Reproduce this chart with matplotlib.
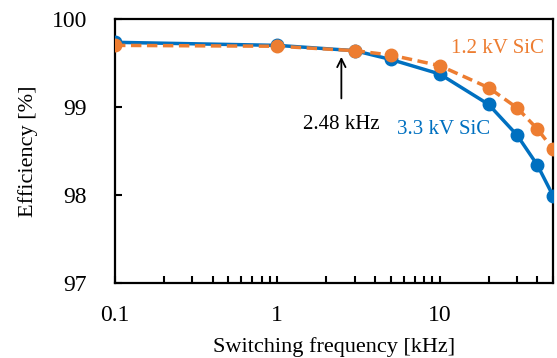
import matplotlib.pyplot as plt
from matplotlib.ticker import FixedLocator, LogLocator, NullFormatter

plt.rcParams['font.family'] = ['Liberation Serif', 'DejaVu Serif']

freq = [0.1, 1, 3, 5, 10, 20, 30, 40, 50]
eff_33 = [99.735, 99.70, 99.64, 99.54, 99.375, 99.03, 98.68, 98.34, 97.99]
eff_12 = [99.70, 99.69, 99.64, 99.59, 99.47, 99.22, 98.99, 98.75, 98.52]
xticks = [0.1, 1, 10]
xtick_labels = ["0.1", "1", "10"]
yticks = [97, 98, 99, 100]

BLUE = "#0070C0"
ORANGE = "#ED7D31"

fig = plt.figure(figsize=(5.57, 3.58), dpi=100)
ax = fig.add_axes([0.2065, 0.2095, 0.7865, 0.7375])

ax.plot(freq, eff_33, color=BLUE, lw=2.5, marker="o", ms=9, zorder=3)
ax.plot(freq, eff_12, color=ORANGE, lw=2.5, ls=(0, (3, 1.6)), marker="o", ms=9, zorder=4)

ax.set_xscale("log")
ax.set_xlim(0.1, 50)
ax.set_ylim(97, 100)
ax.set_xticks(xticks)
ax.set_xticklabels(xtick_labels)
ax.xaxis.set_minor_locator(LogLocator(base=10, subs=range(2, 10)))
ax.xaxis.set_minor_formatter(NullFormatter())
ax.yaxis.set_major_locator(FixedLocator(yticks))

for s in ax.spines.values():
    s.set_linewidth(1.6)
ax.tick_params(axis="both", which="major", direction="in", length=5, width=1.5,
               labelsize=17)
ax.tick_params(axis="x", pad=16)
ax.tick_params(axis="y", pad=20)
ax.tick_params(axis="x", which="minor", direction="in", length=5, width=1.5)

ax.set_xlabel("Switching frequency [kHz]", fontsize=16, labelpad=8)
ax.set_ylabel("Efficiency [%]", fontsize=16, labelpad=10)

ax.annotate("2.48 kHz", xy=(2.48, 99.57), xytext=(2.48, 98.8),
            ha="center", va="center", fontsize=15,
            arrowprops=dict(arrowstyle="->", color="black", lw=1.3, shrinkA=10, shrinkB=0))
ax.text(22.8, 99.67, "1.2 kV SiC", color=ORANGE, fontsize=15, ha="center", va="center")
ax.text(10.6, 98.74, "3.3 kV SiC", color=BLUE, fontsize=15, ha="center", va="center")

fig.savefig("out.png", dpi=100)
